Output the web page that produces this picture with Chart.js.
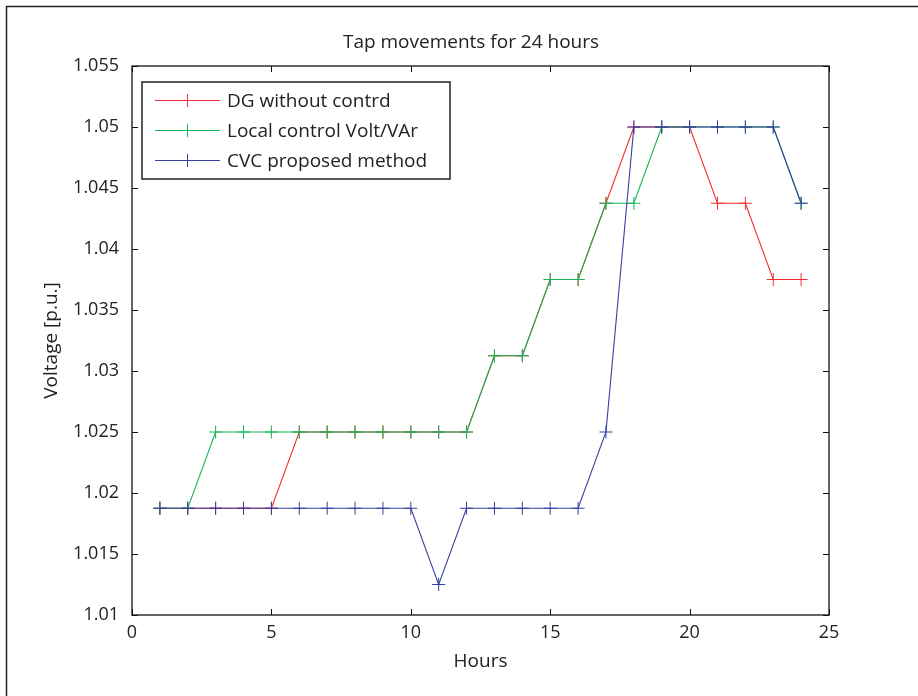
<!DOCTYPE html>
<html>
<head>
<meta charset="utf-8">
<script src="https://cdn.jsdelivr.net/npm/chart.js@4/dist/chart.umd.min.js"></script>
<style>
  html, body { margin: 0; padding: 0; background: #fff; }
  #wrap { width: 918px; height: 696px; }
</style>
</head>
<body>
<div id="wrap"><canvas id="myChart" width="918" height="696"></canvas></div>
<script>
// datos del grafico
const hours = [1, 2, 3, 4, 5, 6, 7, 8, 9, 10, 11, 12, 13, 14, 15, 16, 17, 18, 19, 20, 21, 22, 23, 24];
const dgNoControl = [1.01875, 1.01875, 1.01875, 1.01875, 1.01875, 1.025, 1.025, 1.025, 1.025, 1.025, 1.025, 1.025,
  1.03125, 1.03125, 1.0375, 1.0375, 1.04375, 1.05, 1.05, 1.05, 1.04375, 1.04375, 1.0375, 1.0375];
const localControl = [1.01875, 1.01875, 1.025, 1.025, 1.025, 1.025, 1.025, 1.025, 1.025, 1.025, 1.025, 1.025,
  1.03125, 1.03125, 1.0375, 1.0375, 1.04375, 1.04375, 1.05, 1.05, 1.05, 1.05, 1.05, 1.04375];
const cvcMethod = [1.01875, 1.01875, 1.01875, 1.01875, 1.01875, 1.01875, 1.01875, 1.01875, 1.01875, 1.01875, 1.0125, 1.01875,
  1.01875, 1.01875, 1.01875, 1.01875, 1.025, 1.05, 1.05, 1.05, 1.05, 1.05, 1.05, 1.04375];
const seriesNames = ["DG without contrd", "Local control Volt/VAr", "CVC proposed method"];
const seriesColors = ["#f22d33", "#14b656", "#383ea3"];
const chartTitle = "Tap movements for 24 hours";
const xTicks = [0, 5, 10, 15, 20, 25];
const yTicks = [1.01, 1.015, 1.02, 1.025, 1.03, 1.035, 1.04, 1.045, 1.05, 1.055];
const yTickLabels = ["1.01", "1.015", "1.02", "1.025", "1.03", "1.035", "1.04", "1.045", "1.05", "1.055"];

const FONT = "'Open Sans', 'DejaVu Sans', sans-serif";

const toPoints = (vals) => vals.map((v, i) => ({ x: hours[i], y: v }));

// caja del grafico, marcas hacia dentro, titulo y leyenda
const boxPlugin = {
  id: "boxPlugin",
  beforeDatasetsDraw(chart) {
    const ctx = chart.ctx;
    const a = chart.chartArea;
    const xs = chart.scales.x;
    const ys = chart.scales.y;
    ctx.save();
    // marco exterior
    ctx.strokeStyle = "#222";
    ctx.lineWidth = 1.5;
    ctx.beginPath();
    ctx.moveTo(6.5, 696);
    ctx.lineTo(6.5, 6.5);
    ctx.lineTo(918, 6.5);
    ctx.stroke();

    ctx.strokeStyle = "#111";
    ctx.lineWidth = 1.3;
    ctx.strokeRect(a.left, a.top, a.right - a.left, a.bottom - a.top);
    const tl = 6;
    ctx.lineWidth = 1;
    ctx.beginPath();
    xTicks.forEach((t) => {
      const px = Math.round(xs.getPixelForValue(t)) + 0.5;
      ctx.moveTo(px, a.bottom); ctx.lineTo(px, a.bottom - tl);
      ctx.moveTo(px, a.top); ctx.lineTo(px, a.top + tl);
    });
    yTicks.forEach((t) => {
      const py = Math.round(ys.getPixelForValue(t)) + 0.5;
      ctx.moveTo(a.left, py); ctx.lineTo(a.left + tl, py);
      ctx.moveTo(a.right, py); ctx.lineTo(a.right - tl, py);
    });
    ctx.stroke();

    // titulo
    ctx.fillStyle = "#222";
    ctx.font = "19px " + FONT;
    ctx.textAlign = "center";
    ctx.textBaseline = "middle";
    ctx.fillText(chartTitle, 471, 43);
    ctx.restore();
  },
  afterDraw(chart) {
    const ctx = chart.ctx;
    ctx.save();
    const bx = 142, by = 82, bw = 308, bh = 97;
    ctx.fillStyle = "#fff";
    ctx.fillRect(bx, by, bw, bh);
    ctx.strokeStyle = "#222";
    ctx.lineWidth = 1.5;
    ctx.strokeRect(bx, by, bw, bh);
    const rows = [100.5, 130.5, 160.5];
    ctx.font = "19px " + FONT;
    ctx.textBaseline = "middle";
    seriesNames.forEach((name, i) => {
      const y = rows[i];
      ctx.strokeStyle = seriesColors[i];
      ctx.lineWidth = 1;
      ctx.beginPath();
      ctx.moveTo(155, y); ctx.lineTo(220, y);
      ctx.moveTo(187.5, y - 6.5); ctx.lineTo(187.5, y + 6.5);
      ctx.stroke();
      ctx.fillStyle = "#222";
      ctx.fillText(name, 227, y + 1);
    });
    ctx.restore();
  }
};

const makeDataset = (i, vals, order) => ({
  label: seriesNames[i],
  data: toPoints(vals),
  borderColor: seriesColors[i],
  backgroundColor: seriesColors[i],
  borderWidth: 1.1,
  pointStyle: "cross",
  pointRadius: 6.5,
  pointBorderWidth: 1,
  pointHoverRadius: 6.5,
  tension: 0,
  order: order
});

const config = {
  type: "line",
  data: {
    datasets: [
      makeDataset(2, cvcMethod, 0),
      makeDataset(1, localControl, 1),
      makeDataset(0, dgNoControl, 2)
    ]
  },
  options: {
    responsive: false,
    animation: false,
    layout: { padding: { left: 40, right: 89, top: 66, bottom: 23 } },
    plugins: {
      legend: { display: false },
      tooltip: { enabled: false },
      title: { display: false }
    },
    scales: {
      x: {
        type: "linear",
        min: 0,
        max: 25,
        afterFit: (s) => { s.height = 58; },
        afterBuildTicks: (s) => { s.ticks = xTicks.map((v) => ({ value: v })); },
        grid: { display: false, drawTicks: false },
        border: { display: false },
        ticks: {
          color: "#222",
          padding: 7,
          font: { family: FONT, size: 18 },
          callback: (v) => String(v)
        },
        title: {
          display: true,
          text: "Hours",
          color: "#222",
          padding: 0,
          font: { family: FONT, size: 19 }
        }
      },
      y: {
        type: "linear",
        min: 1.01,
        max: 1.055,
        afterFit: (s) => { s.width = 92; },
        afterBuildTicks: (s) => { s.ticks = yTicks.map((v) => ({ value: v })); },
        grid: { display: false, drawTicks: false },
        border: { display: false },
        ticks: {
          color: "#222",
          padding: 13,
          font: { family: FONT, size: 18 },
          callback: (v, idx) => yTickLabels[idx]
        },
        title: {
          display: true,
          text: "Voltage [p.u.]",
          color: "#222",
          padding: 0,
          font: { family: FONT, size: 19 }
        }
      }
    }
  },
  plugins: [boxPlugin]
};

const chartDOM = document.getElementById("myChart");
const myLineChart = new Chart(chartDOM, config);
</script>
</body>
</html>
